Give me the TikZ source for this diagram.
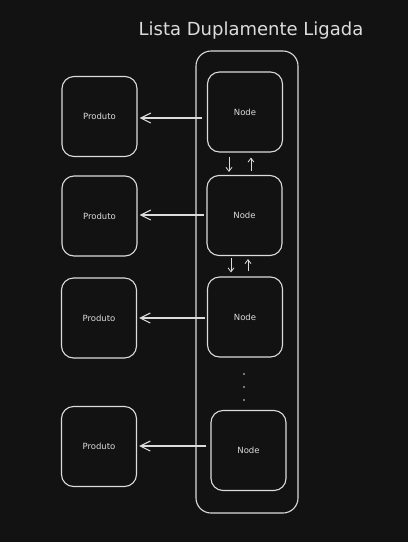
\documentclass[tikz,border=0pt]{standalone}
\usepackage{fontspec}
\setmainfont{DejaVu Sans}
\usetikzlibrary{arrows.meta}
\definecolor{bg}{HTML}{121212}
\definecolor{ink}{HTML}{DCDCDC}
\begin{document}
\begin{tikzpicture}[x=1pt,y=-1pt,
  box/.style={draw=ink,line width=1.1pt,rounded corners=12pt,minimum width=75pt,minimum height=80pt,inner sep=0pt,text=ink,font=\fontsize{8.5}{10}\selectfont},
  link/.style={draw=ink,line width=1.1pt,-{Straight Barb[length=10pt,width=10pt]}},
  small/.style={draw=ink,line width=0.8pt,-{Straight Barb[length=4pt,width=6pt]}}]
\fill[bg] (0,0) rectangle (408,542);
\useasboundingbox (0,0) rectangle (408,542);
\node[text=ink,font=\fontsize{18}{21}\selectfont] (title) at (251,31) {Lista Duplamente Ligada};
\node[draw=ink,line width=1.1pt,rounded corners=15pt,minimum width=102pt,minimum height=462pt,inner sep=0pt] (list) at (247,282) {};
\node[box] (n1) at (245,112) {Node};
\node[box] (n2) at (244.5,215.5) {Node};
\node[box] (n3) at (245,317) {Node};
\node[box] (n4) at (248.5,450.5) {Node};
\node[box] (p1) at (99.5,116.5) {Produto};
\node[box] (p2) at (99.5,216) {Produto};
\node[box] (p3) at (99,318) {Produto};
\node[box] (p4) at (99,446.5) {Produto};
\draw[link] ([xshift=-5pt]n1.west |- 0,118) coordinate (a1) -- ([xshift=2pt]p1.east |- a1);
\draw[link] ([xshift=-2pt]n2.west |- 0,215) coordinate (a2) -- ([xshift=2pt]p2.east |- a2);
\draw[link] ([xshift=-2pt]n3.west |- 0,318) coordinate (a3) -- ([xshift=2pt]p3.east |- a3);
\draw[link] ([xshift=-4pt]n4.west |- 0,446) coordinate (a4) -- ([xshift=2pt]p4.east |- a4);
\draw[small] ([yshift=-4pt]n1.south -| 229,0) -- ([yshift=3pt]n2.north -| 229,0);
\draw[small] ([yshift=4pt]n2.north -| 251,0) -- ([yshift=-5pt]n1.south -| 251,0);
\draw[small] ([yshift=-2pt]n2.south -| 231,0) -- ([yshift=4pt]n3.north -| 231,0);
\draw[small] ([yshift=5pt]n3.north -| 248,0) -- ([yshift=-3pt]n2.south -| 248,0);
\foreach \y/\nm in {374/d1,387/d2,400/d3}
  \fill[ink] (244,\y) circle (0.9pt) coordinate (\nm);
\end{tikzpicture}
\end{document}
